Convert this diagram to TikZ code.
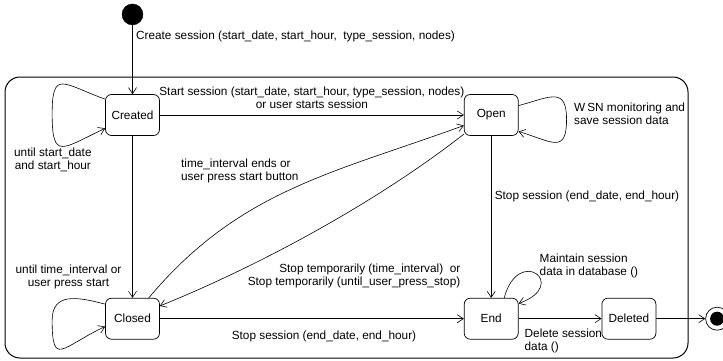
\documentclass[tikz,border=0pt]{standalone}
\usepackage{fontspec}
\setmainfont{Liberation Sans}
\usetikzlibrary{arrows.meta, positioning}

\begin{document}
\begin{tikzpicture}[
    x=1pt, y=1pt,
    font=\fontsize{11.8}{13}\selectfont,
    statebox/.style={rectangle, draw, rounded corners=6pt, minimum width=54pt, minimum height=41pt, inner sep=0pt, line width=0.7pt},
    composite/.style={rectangle, draw, rounded corners=15pt, minimum width=683pt, minimum height=281pt, line width=1pt},
    startdot/.style={circle, draw, fill=black, minimum size=21pt, inner sep=0pt},
    enddot/.style={circle, draw, minimum size=23pt, inner sep=0pt, line width=0.7pt,
        path picture={\fill[black] (path picture bounding box.center) circle (7pt);}},
    arrow/.style={-{Straight Barb[length=6pt, width=8pt]}, line width=0.6pt},
    lbl/.style={align=center}
]

\useasboundingbox (0,0) rectangle (723,360);

% Composite state
\node[composite] (session) at (346.5,142.5) {};

% Main nodes
\node[statebox] (created) at (132.5,245) {Created};
\node[statebox, right=304pt of created] (open) {Open};
\node[statebox, below=162pt of created] (closed) {Closed};
\node[statebox, right=304pt of closed] (ended) {End};
\node[statebox, right=83pt of ended] (deleted) {Deleted};

% Pseudo states
\node[startdot, above=69pt of created] (init) {};
\node[enddot, right=49pt of deleted] (final) {};

% Transitions
\draw[arrow] (init) -- (created) node[pos=0.17, right] {Create session (start\_date, start\_hour, \ type\_session, nodes)};
\draw[arrow] (created) -- (open) node[midway, above=3pt, lbl] {Start session (start\_date, start\_hour, type\_session, nodes)\\or user starts session};
\draw[arrow] (created) -- (closed);
\draw[arrow] (open) -- (ended) node[pos=0.375, right] {Stop session (end\_date, end\_hour)};
\draw[arrow] (closed) -- (ended) node[pos=0.54, below=9pt] {Stop session (end\_date, end\_hour)};
\draw[arrow] (ended) -- (deleted) node[pos=0.03, below right, yshift=-7pt, align=left] {Delete session\\data ()};
\draw[arrow] (deleted) -- (final);

% Curved transitions
\draw[arrow] (closed.52) to[out=50, in=200] node[pos=0.55, anchor=south east, xshift=-4pt, yshift=-4pt, align=left] {time\_interval ends or\\user press start button} (open.201);
\draw[arrow] (open.215) to[out=218, in=22, looseness=0.8] (closed.25);
\node[align=right, above left=6pt and 0pt of ended.north west] (stoptemp) {Stop temporarily (time\_interval) \ or\\Stop temporarily (until\_user\_press\_stop)};

% Self transitions
\draw[arrow] (created.150) to[out=160, in=90, looseness=2.1] ++(-53,-15)
    to[out=270, in=205, looseness=2.2] node[pos=0.35, below, xshift=-4pt, lbl] {until start\_date\\and start\_hour} (created.206);
\draw[arrow] (closed.152) to[out=165, in=90, looseness=1.3] node[pos=0.5, above=6pt, lbl] {until time\_interval or\\user press start} ++(-53,-16)
    to[out=270, in=205, looseness=2.3] (closed.196);
\draw[arrow] (open.19) to[out=15, in=90, looseness=1.7] ++(48,-14) node[right=4pt, yshift=6pt, align=left] {W\,SN monitoring and\\save session data}
    to[out=270, in=-17, looseness=1.8] (open.329);
\draw[arrow] (ended.58) to[out=75, in=20, distance=55pt] node[pos=0.5, anchor=west, yshift=8pt, align=left] {Maintain session\\data in database ()} (ended.29);

\end{tikzpicture}
\end{document}
